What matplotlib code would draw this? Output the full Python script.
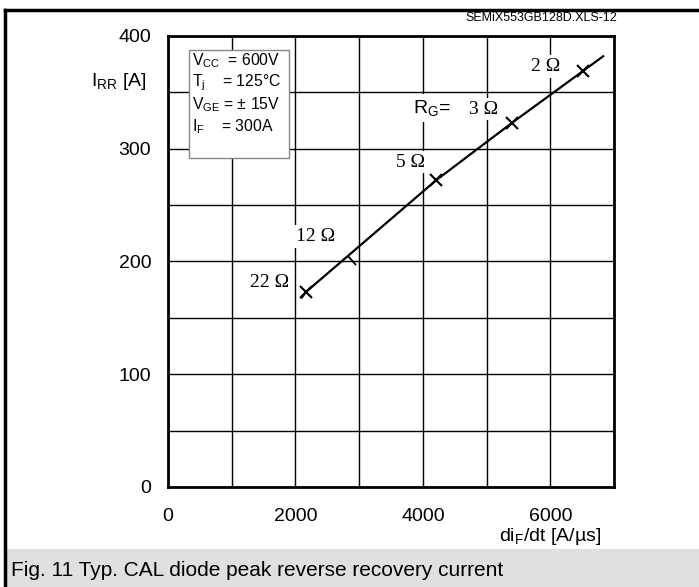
import matplotlib.pyplot as plt
from matplotlib.lines import Line2D
from matplotlib.patches import Rectangle
from matplotlib.markers import MarkerStyle
from matplotlib.transforms import Affine2D

plt.rcParams['font.family'] = ['Liberation Sans', 'DejaVu Sans']
plt.rcParams['mathtext.default'] = 'regular'

# curve
curve_didt = [2100, 2166, 2826, 4207, 5400, 6515, 6830]
curve_irr = [168, 173, 205, 272, 323, 369, 382]

# marked gate resistor points
rg_labels = ['22 Ω', '12 Ω', '5 Ω', '3 Ω', '2 Ω']
rg_didt = [2166, 2826, 4207, 5400, 6515]
rg_irr = [173, 205, 272, 323, 369]
label_pos = [(1600, 181), (2320, 222), (3800, 288), (4950, 335), (5920, 373)]

conditions = ['V$_{CC}$  = 600V', 'T$_{j}$    = 125°C', 'V$_{GE}$ = ± 15V', 'I$_{F}$    = 300A']

fig = plt.figure(figsize=(6.99, 5.87), dpi=100)
ax = fig.add_axes([0.2403, 0.1704, 0.6381, 0.7683])

ax.set_xlim(0, 7000)
ax.set_ylim(0, 400)
ax.set_xticks(range(0, 7001, 1000))
ax.set_yticks(range(0, 401, 50))
ax.set_xticklabels(['0', '', '2000', '', '4000', '', '6000', ''])
ax.set_yticklabels(['0', '', '100', '', '200', '', '300', '', '400'])
ax.tick_params(length=0, labelsize=14)
ax.tick_params(axis='y', pad=12)
ax.tick_params(axis='x', pad=15)
ax.grid(True, color='black', linewidth=1.0)
ax.set_axisbelow(True)
for s in ax.spines.values():
    s.set_linewidth(2)

# curve and markers
ax.plot(curve_didt, curve_irr, color='black', linewidth=1.6, zorder=3)
for i in range(len(rg_didt)):
    if rg_labels[i] == '12 Ω':
        # only a one sided tick at this point
        m = MarkerStyle('|', transform=Affine2D().translate(0, -0.5).rotate_deg(41))
        ax.plot(rg_didt[i], rg_irr[i], marker=m, markersize=9, color='black', mew=1.3, zorder=4)
    else:
        ax.plot(rg_didt[i], rg_irr[i], marker='x', markersize=8, color='black', mew=1.5, zorder=4)
    ax.text(label_pos[i][0], label_pos[i][1], rg_labels[i], family='Liberation Serif', fontsize=14,
            ha='center', va='center', zorder=2,
            bbox=dict(facecolor='white', edgecolor='none', pad=2))

ax.text(4140, 336, 'R$_{G}$=', fontsize=14, ha='center', va='center', zorder=2,
        bbox=dict(facecolor='white', edgecolor='none', pad=3))

# conditions box
ax.add_patch(Rectangle((330, 292), 1570, 96, facecolor='white', edgecolor='#888888',
                       linewidth=1, zorder=2))
for k, txt in enumerate(conditions):
    ax.text(380, 378 - k * 19.5, txt, fontsize=11.3, ha='left', va='center', zorder=3)

ax.text(-330, 360, 'I$_{RR}$ [A]', fontsize=14, ha='right', va='center')
ax.text(6000, -44, 'di$_{F}$/dt [A/µs]', fontsize=14, ha='center', va='center')

fig.text(617 / 699, 1 - 18 / 587, 'SEMiX553GB128D.XLS-12', fontsize=9, ha='right', va='center')

# frame and caption band
fig.add_artist(Rectangle((5 / 699, 0), 1, 38 / 587, transform=fig.transFigure,
                         facecolor='#e0e0e0', edgecolor='none'))
fig.add_artist(Line2D([5 / 699, 5 / 699], [0, 1 - 10 / 587], color='black', linewidth=2.5))
fig.add_artist(Line2D([5 / 699, 1], [1 - 10 / 587, 1 - 10 / 587], color='black', linewidth=2.5))
fig.text(11 / 699, 16 / 587, 'Fig. 11 Typ. CAL diode peak reverse recovery current',
         fontsize=15, ha='left', va='center')

fig.savefig('out.png', dpi=100)
